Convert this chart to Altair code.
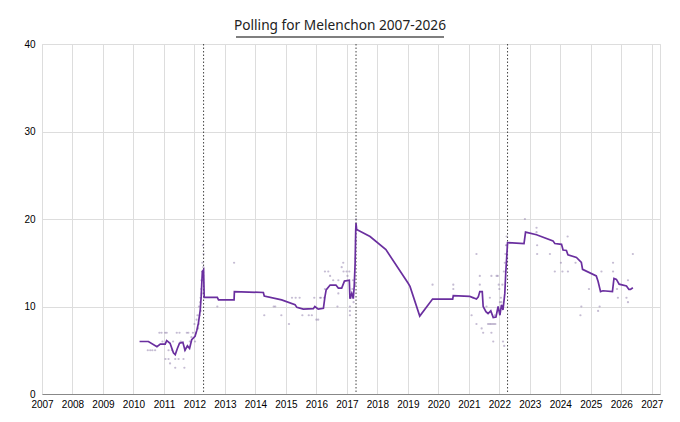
import altair as alt
import pandas as pd

# ---- polling average (line) ----
avg_date = [2010.20, 2010.49, 2010.77, 2010.88, 2011.04, 2011.09, 2011.20, 2011.31, 2011.37, 2011.44,
            2011.51, 2011.62, 2011.69, 2011.77, 2011.84, 2011.91, 2012.02, 2012.08, 2012.13, 2012.19,
            2012.22, 2012.24, 2012.26, 2012.30, 2012.32, 2012.75, 2012.79, 2013.30, 2013.31, 2014.26,
            2014.29, 2014.86, 2015.30, 2015.36, 2015.57, 2015.90, 2015.95, 2016.06, 2016.23, 2016.28,
            2016.32, 2016.45, 2016.64, 2016.72, 2016.83, 2016.92, 2017.08, 2017.10, 2017.16, 2017.21,
            2017.24, 2017.27, 2017.29, 2017.30, 2017.32, 2017.76, 2018.28, 2019.01, 2019.07, 2019.39,
            2019.81, 2020.47, 2020.49, 2021.03, 2021.25, 2021.31, 2021.36, 2021.44, 2021.47, 2021.56,
            2021.63, 2021.72, 2021.80, 2021.89, 2021.96, 2022.02, 2022.07, 2022.12, 2022.18, 2022.21,
            2022.25, 2022.27, 2022.81, 2022.86, 2023.22, 2023.76, 2023.82, 2024.04, 2024.09, 2024.20,
            2024.25, 2024.53, 2024.69, 2024.73, 2025.18, 2025.24, 2025.32, 2025.40, 2025.71, 2025.76,
            2025.84, 2025.93, 2026.17, 2026.25, 2026.30, 2026.38]
avg_value = [6.0, 6.0, 5.4, 5.7, 5.7, 6.1, 5.8, 4.7, 4.5, 5.2,
             5.8, 5.9, 5.0, 5.5, 5.2, 6.2, 6.6, 7.3, 8.1, 9.6,
             11.1, 12.6, 14.0, 14.2, 11.05, 11.05, 10.75, 10.75, 11.7, 11.6,
             11.2, 10.75, 10.2, 9.9, 9.7, 9.75, 10.0, 9.7, 9.8, 11.1,
             11.9, 12.45, 12.45, 12.1, 12.1, 12.9, 13.0, 10.9, 11.5, 10.9,
             12.3, 14.9, 18.7, 19.5, 18.8, 18.0, 16.5, 12.65, 12.3, 8.9,
             10.85, 10.85, 11.25, 11.15, 10.85, 11.1, 11.7, 11.7, 10.0, 9.4,
             9.2, 9.5, 8.75, 8.8, 10.0, 9.0, 10.2, 9.6, 11.5, 13.8,
             16.1, 17.3, 17.2, 18.5, 18.2, 17.5, 17.2, 17.1, 16.45, 16.4,
             15.9, 15.6, 15.05, 14.25, 13.5, 12.85, 11.7, 11.8, 11.7, 13.2,
             13.1, 12.55, 12.35, 11.95, 11.95, 12.15]
assert len(avg_date) == len(avg_value)

# ---- individual polls (points) ----
poll_date = [2010.47, 2010.55, 2010.62, 2010.71, 2010.85, 2010.92, 2010.95, 2011.04, 2011.09, 2011.05,
             2011.15, 2011.15, 2011.20, 2011.26, 2011.30, 2011.37, 2011.37, 2011.42, 2011.48, 2011.51,
             2011.55, 2011.64, 2011.67, 2011.69, 2011.75, 2011.80, 2011.85, 2011.90, 2011.95, 2012.00,
             2012.02, 2012.05, 2012.07, 2012.10, 2012.12, 2012.14, 2012.15, 2012.17, 2012.19, 2012.20,
             2012.21, 2012.22, 2012.23, 2012.24, 2012.25, 2012.26, 2012.27, 2012.28, 2012.29, 2012.30,
             2012.75, 2013.30, 2014.29, 2014.60, 2014.65, 2014.85, 2015.10, 2015.20, 2015.32, 2015.45,
             2015.54, 2015.75, 2015.85, 2015.93, 2016.00, 2016.06, 2016.12, 2016.15, 2016.25, 2016.28,
             2016.28, 2016.39, 2016.45, 2016.55, 2016.69, 2016.72, 2016.72, 2016.83, 2016.88, 2016.89,
             2016.99, 2017.02, 2017.08, 2017.10, 2017.10, 2017.10, 2017.16, 2017.18, 2017.20, 2017.22,
             2017.27, 2017.28, 2017.29, 2017.30, 2017.30, 2019.81, 2020.49, 2020.49, 2021.09, 2021.14,
             2021.25, 2021.25, 2021.36, 2021.36, 2021.42, 2021.47, 2021.58, 2021.63, 2021.68, 2021.69,
             2021.72, 2021.74, 2021.74, 2021.77, 2021.80, 2021.82, 2021.85, 2021.87, 2021.91, 2021.95,
             2021.98, 2022.00, 2022.02, 2022.05, 2022.07, 2022.10, 2022.15, 2022.18, 2022.20, 2022.22,
             2022.24, 2022.24, 2022.12, 2022.16, 2022.84, 2023.22, 2023.22, 2023.24, 2023.24, 2023.66,
             2023.82, 2024.02, 2024.07, 2024.24, 2024.25, 2024.50, 2024.66, 2024.69, 2024.94, 2025.24,
             2025.29, 2025.35, 2025.73, 2025.73, 2025.86, 2025.89, 2026.17, 2026.22, 2026.22, 2026.38]
poll_value = [5, 5, 5, 5, 7, 7, 6, 7, 7, 4,
              5, 4, 3.5, 5, 6, 4, 3, 7, 4, 7,
              6, 4, 3, 5, 7, 7, 6, 6.5, 7, 8,
              6, 7, 8.5, 9, 7.5, 8, 10, 9, 10.5, 11,
              9.5, 12, 13, 11.5, 14, 15, 13, 17, 14.5, 16,
              10, 15, 9, 10, 10, 9, 8, 11, 11, 11,
              9, 9, 9, 11, 8.5, 8.5, 11, 11, 11, 14,
              12, 14, 13.5, 13, 10, 13, 11.5, 14.5, 15, 14,
              14, 13.5, 14, 10, 9.5, 9, 11, 12, 13, 10.5,
              12.5, 15.5, 17.5, 19.5, 20, 12.5, 12.5, 12, 9, 11,
              16, 8, 13.5, 12.5, 7.5, 7, 10, 8, 8, 11,
              8, 7, 13.5, 8, 6, 8, 9, 8, 13.5, 13.5,
              12.5, 12, 10.5, 11, 10.5, 12.5, 14, 15, 16, 17,
              18, 17, 6, 5.5, 20, 19, 18.5, 17, 16, 16,
              14, 15, 14, 18, 14, 15, 9, 10, 12, 9.5,
              10, 14, 15, 14, 12, 11, 11, 13, 10.5, 16]
assert len(poll_date) == len(poll_value)

# ---- presidential first rounds ----
election_date = [2012.30, 2017.30, 2022.27]

year_ticks = list(range(2007, 2028))
value_ticks = [0, 10, 20, 30, 40]

TITLE = "Polling for Melenchon 2007-2026"
FONT = "Noto Sans"
PURPLE = "#6a2f9f"

avg_df = pd.DataFrame({"date": avg_date, "value": avg_value})
poll_df = pd.DataFrame({"date": poll_date, "value": poll_value})
elec_df = pd.DataFrame({"date": election_date})
title_df = pd.DataFrame({"label": [TITLE]})

x_scale = alt.Scale(domain=[2007, 2027.27], nice=False, zero=False)
y_scale = alt.Scale(domain=[0, 40], nice=False)

x_axis = alt.Axis(values=year_ticks, format="d", title=None, grid=True, ticks=False,
                  labelPadding=5, domain=True, labelOverlap=False, labelSeparation=0,
                  labelFlush=False)
y_axis = alt.Axis(values=value_ticks, title=None, grid=True, ticks=False, domain=False,
                  labelPadding=7)

points = alt.Chart(poll_df).mark_circle(size=5, color="#8c7aa8", opacity=0.5).encode(
    x=alt.X("date:Q", scale=x_scale, axis=x_axis),
    y=alt.Y("value:Q", scale=y_scale, axis=y_axis),
)

rules = alt.Chart(elec_df).mark_rule(color="#444444", strokeDash=[1.5, 2], strokeWidth=1).encode(
    x=alt.X("date:Q", scale=x_scale, axis=x_axis),
)

line = alt.Chart(avg_df).mark_line(color=PURPLE, strokeWidth=1.7, interpolate="linear").encode(
    x=alt.X("date:Q", scale=x_scale, axis=x_axis),
    y=alt.Y("value:Q", scale=y_scale, axis=y_axis),
)

# chart title, drawn centred on the whole image, with its underline
title_text = alt.Chart(title_df).mark_text(
    font=FONT, fontSize=13.7, color="#222222", align="center", baseline="alphabetic"
).encode(
    text="label:N", x=alt.value(298), y=alt.value(-14)
)

underline = alt.Chart(title_df).mark_rule(color="#555555", strokeWidth=1.5).encode(
    x=alt.value(194), x2=alt.value(402), y=alt.value(-7)
)

chart = alt.layer(points, rules, line, title_text, underline).properties(
    width=618,
    height=350,
    autosize=alt.AutoSizeParams(type="none"),
    padding={"left": 34, "top": 36, "right": 12, "bottom": 22},
).configure_view(
    stroke=None
).configure_axis(
    gridColor="#e6e6e6",
    gridWidth=1,
    domainColor="#cccccc",
    labelColor="#666666",
    labelFont=FONT,
    labelFontSize=8.5,
    labelOverlap=False,
).configure_axisX(
    labelOverlap=False,
    labelSeparation=0,
).configure(
    background="white"
)

chart.save("out.html", embed_options={"renderer": "svg", "actions": False})
